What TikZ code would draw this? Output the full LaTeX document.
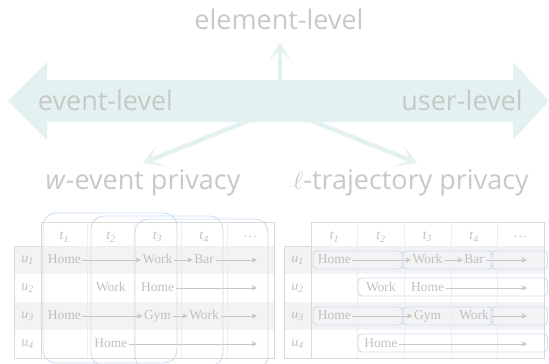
\documentclass[tikz,border=0pt]{standalone}
\usepackage{fontspec}
\setmainfont{Liberation Serif}
\newfontfamily\labelfont{Open Sans}
\usetikzlibrary{arrows.meta}
\definecolor{txt}{RGB}{200,200,200}
\definecolor{celltxt}{RGB}{192,192,192}
\definecolor{arrowgray}{RGB}{198,198,198}
\definecolor{band}{RGB}{227,242,240}
\definecolor{linegray}{RGB}{218,218,218}
\definecolor{gridgray}{RGB}{238,238,238}
\definecolor{shadecol}{RGB}{243,243,243}
\definecolor{boxblue}{RGB}{202,221,243}
\tikzset{
  bigtxt/.style={font=\labelfont\fontsize{27}{30}\selectfont, text=txt, inner sep=0pt, anchor=base},
  cell/.style={font=\fontsize{13.5}{15}\selectfont, text=celltxt, inner sep=1.5pt, text height=9pt, text depth=2pt},
  hdr/.style={font=\itshape\fontsize{14}{16}\selectfont, text=celltxt, inner sep=1pt},
  flowarrow/.style={draw=arrowgray, line width=0.7pt, -{Stealth[length=5pt,width=5pt,inset=1pt]}},
  tline/.style={draw=linegray, line width=0.7pt},
  gline/.style={draw=gridgray, line width=0.5pt},
  winbox/.style={draw=boxblue, line width=0.9pt, rounded corners=13pt},
  trajbox/.style={draw=boxblue, line width=0.9pt, rounded corners=4pt},
  fatarrow/.style={draw=band, line width=4.5pt, -{Stealth[length=20pt,width=23pt,inset=13pt]}},
}
\newcommand\tablegrid[1]{%
  \fill[shadecol] (14,246) rectangle (274,274);
  \fill[shadecol] (14,302) rectangle (274,330);
  \foreach \gx in {87.6,134.2,180.8,227.4} \draw[gline] (\gx,222) -- (\gx,358);
  \draw[gline] (41,246) -- (274,246);
  \draw[tline] (41,222) rectangle (274,358);
  \draw[tline] (14,246) rectangle (41,358);
  \foreach \i/\cx in {1/64.3,2/110.9,3/157.5,4/204.1}
    \node[hdr] (#1t\i) at (\cx,237) {t\textsubscript{\i}};
  \node[hdr] (#1tdots) at (250.7,237) {\dots};
  \foreach \i/\ry in {1/260,2/288,3/316,4/344}
    \node[hdr] (#1u\i) at (27.5,\ry) {u\textsubscript{\i}};
}
\begin{document}
\begin{tikzpicture}[x=1pt,y=-1pt]
\useasboundingbox (0,0) rectangle (549,364);
% ---------- top diagram ----------
\fill[band] (8,101) -- (47,62) -- (47,80) -- (513,80) -- (513,62) -- (549,101)
  -- (513,140) -- (513,122) -- (47,122) -- (47,140) -- cycle;
\coordinate (upbase) at (280,90);
\coordinate (uptip) at (280,42);
\coordinate (hub) at (280,108);
\coordinate (wtip) at (143,163);
\coordinate (ltip) at (417,163);
\draw[fatarrow] (upbase) -- (uptip);
\draw[fatarrow] (hub) -- (wtip);
\draw[fatarrow] (hub) -- (ltip);
\node[bigtxt] (elem) at (279,29) {element-level};
\node[bigtxt] (evt) at (105.5,110) {event-level};
\node[bigtxt] (usr) at (462,110) {user-level};
\node[bigtxt] (wev) at (143,189) {\textit{w}-event privacy};
\node[bigtxt] (ltr) at (411,189) {$\ell$-trajectory privacy};
% ---------- left table ----------
\begin{scope}
\tablegrid{L}
\node[cell] (Lh1) at (64.3,260) {Home};
\node[cell] (Lw1) at (157.5,260) {Work};
\node[cell] (Lb1) at (204.1,260) {Bar};
\coordinate (Le1) at (257,260);
\draw[flowarrow] (Lh1) -- (Lw1);
\draw[flowarrow] (Lw1) -- (Lb1);
\draw[flowarrow] (Lb1) -- (Le1);
\node[cell] (Lw2) at (110.9,288) {Work};
\node[cell] (Lh2) at (157.5,288) {Home};
\coordinate (Le2) at (257,288);
\draw[flowarrow] (Lh2) -- (Le2);
\node[cell] (Lh3) at (64.3,316) {Home};
\node[cell] (Lg3) at (157.5,316) {Gym};
\node[cell] (Lw3) at (204.1,316) {Work};
\coordinate (Le3) at (257,316);
\draw[flowarrow] (Lh3) -- (Lg3);
\draw[flowarrow] (Lg3) -- (Lw3);
\draw[flowarrow] (Lw3) -- (Le3);
\node[cell] (Lh4) at (110.9,344) {Home};
\coordinate (Le4) at (257,344);
\draw[flowarrow] (Lh4) -- (Le4);
\draw[winbox] (43,213) rectangle (177,363);
\draw[winbox] (91,216) rectangle (223,366);
\draw[winbox] (135,219) rectangle (268,369);
\end{scope}
% ---------- right table ----------
\begin{scope}[xshift=270pt]
\tablegrid{R}
\node[cell] (Rh1) at (64.3,260) {Home};
\node[cell] (Rw1) at (157.5,260) {Work};
\node[cell] (Rb1) at (204.1,260) {Bar};
\coordinate (Re1) at (257,260);
\draw[flowarrow] (Rh1) -- (Rw1);
\draw[flowarrow] (Rw1) -- (Rb1);
\draw[flowarrow] (Rb1) -- (Re1);
\node[cell] (Rw2) at (110.9,288) {Work};
\node[cell] (Rh2) at (157.5,288) {Home};
\coordinate (Re2) at (257,288);
\draw[flowarrow] (Rh2) -- (Re2);
\node[cell] (Rh3) at (64.3,316) {Home};
\node[cell] (Rg3) at (157.5,316) {Gym};
\node[cell] (Rw3) at (204.1,316) {Work};
\coordinate (Re3) at (257,316);
\draw[flowarrow] (Rh3) -- (Rg3);
\draw[flowarrow] (Rw3) -- (Re3);
\node[cell] (Rh4) at (110.9,344) {Home};
\coordinate (Re4) at (257,344);
\draw[flowarrow] (Rh4) -- (Re4);
\draw[trajbox] (43,251) rectangle (133,269);
\draw[trajbox] (132,251) rectangle (223,269);
\draw[trajbox] (221,251) rectangle (277.5,269);
\draw[trajbox] (88,278) rectangle (277.5,296);
\draw[trajbox] (43,307) rectangle (133,325);
\draw[trajbox] (132,307) rectangle (223,325);
\draw[trajbox] (221,307) rectangle (277.5,325);
\draw[trajbox] (88,334) rectangle (277.5,352);
\end{scope}
\end{tikzpicture}
\end{document}
